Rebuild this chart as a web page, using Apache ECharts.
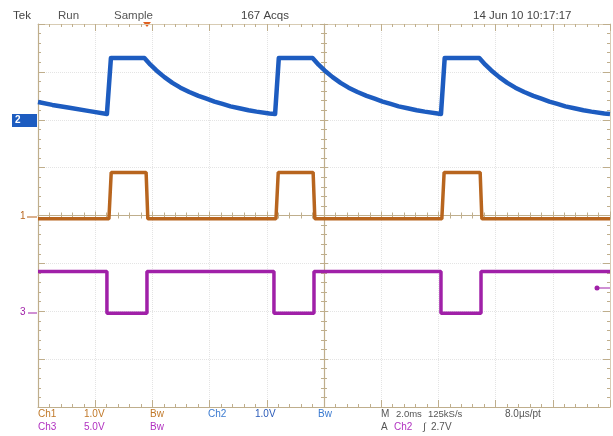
<!DOCTYPE html>
<html><head><meta charset="utf-8">
<script src="https://cdn.jsdelivr.net/npm/echarts@6/dist/echarts.min.js"></script>
<style>html,body{margin:0;padding:0;background:#fff}#c{width:613px;height:436px}</style>
</head><body><div id="c"></div>
<script>
// time in ms (2.0 ms/div, 10 div), amplitude in screen divisions (8 div)
const blueT = [-10, -9.5, -8.9, -8.2, -7.59, -7.45,
  -6.28, -6.07, -5.86, -5.58, -5.30, -5.02, -4.71, -4.39, -4.11, -3.83, -3.55, -3.27, -2.96, -2.64, -2.36, -1.91, -1.71, -1.58,
  -0.40, -0.19, 0.02, 0.30, 0.58, 0.86, 1.17, 1.49, 1.77, 2.05, 2.33, 2.61, 2.92, 3.24, 3.52, 3.97, 4.09, 4.22,
  5.43, 5.64, 5.85, 6.13, 6.41, 6.69, 7.00, 7.32, 7.60, 7.88, 8.16, 8.44, 8.75, 9.07, 9.35, 9.80, 10];
const blueV = [2.37, 2.31, 2.25, 2.18, 2.12, 3.29,
  3.29, 3.15, 3.03, 2.89, 2.77, 2.67, 2.58, 2.50, 2.44, 2.38, 2.33, 2.28, 2.24, 2.20, 2.17, 2.13, 2.12, 3.29,
  3.29, 3.15, 3.03, 2.89, 2.77, 2.67, 2.58, 2.50, 2.44, 2.38, 2.33, 2.28, 2.24, 2.20, 2.17, 2.13, 2.12, 3.29,
  3.29, 3.15, 3.03, 2.89, 2.77, 2.67, 2.58, 2.50, 2.44, 2.38, 2.33, 2.28, 2.24, 2.20, 2.17, 2.13, 2.12];
const orangeT = [-10, -7.52, -7.44, -6.22, -6.16, -1.68, -1.60, -0.38, -0.32, 4.12, 4.20, 5.46, 5.52, 10];
const orangeV = [-0.07, -0.07, 0.90, 0.90, -0.07, -0.07, 0.90, 0.90, -0.07, -0.07, 0.90, 0.90, -0.07, -0.07];
const purpleT = [-10, -7.59, -7.59, -6.19, -6.19, -1.75, -1.75, -0.35, -0.35, 4.09, 4.09, 5.49, 5.49, 10];
const purpleV = [-1.17, -1.17, -2.04, -2.04, -1.17, -1.17, -2.04, -2.04, -1.17, -1.17, -2.04, -2.04, -1.17, -1.17];
const topLabels = ["Tek", "Run", "Sample", "167 Acqs", "14 Jun 10 10:17:17"];
const bottomRow1 = ["Ch1", "1.0V", "Bw", "Ch2", "1.0V", "Bw", "M", "2.0ms", "125kS/s", "8.0µs/pt"];
const bottomRow2 = ["Ch3", "5.0V", "Bw", "A", "Ch2", "∫", "2.7V"];

const zip = (a, b) => a.map((v, i) => [v, b[i]]);
const frame = '#bfae8c', grid = '#e4e4e4';
const F = 'Liberation Sans, Arial, sans-serif';

function xAx(extra) {
  return Object.assign({
    type: 'value', min: -10, max: 10, interval: 2, gridIndex: 0,
    axisLabel: { show: false },
    axisLine: { show: true, onZero: false, lineStyle: { color: frame, width: 1.2 } },
    axisTick: { show: true, inside: true, length: 7, lineStyle: { color: frame } },
    minorTick: { show: true, splitNumber: 5, length: 3, lineStyle: { color: frame } },
    splitLine: { show: false }
  }, extra);
}
function yAx(extra) {
  return Object.assign({
    type: 'value', min: -4, max: 4, interval: 1, gridIndex: 0,
    axisLabel: { show: false },
    axisLine: { show: true, onZero: false, lineStyle: { color: frame, width: 1.2 } },
    axisTick: { show: true, inside: true, length: 7, lineStyle: { color: frame } },
    minorTick: { show: true, splitNumber: 5, length: 3, lineStyle: { color: frame } },
    splitLine: { show: false }
  }, extra);
}

const chart = echarts.init(document.getElementById('c'), null, { renderer: 'canvas' });
const txt = (x, y, s, color, size) => ({
  type: 'text', left: x, top: y,
  style: { text: s, fill: color, font: (size || 10) + 'px ' + F }
});

chart.setOption({
  animation: false,
  backgroundColor: '#ffffff',
  grid: { left: 38, top: 24, width: 572, height: 383 },
  xAxis: [
    xAx({ position: 'bottom', splitLine: { show: true, lineStyle: { color: grid, type: 'dotted', width: 1 } } }),
    xAx({ position: 'top', axisLine: { show: true, onZero: false, lineStyle: { color: '#d8ccb4', width: 1 } } }),
    xAx({ position: 'bottom', offset: -191.5, axisTick: { show: true, inside: true, length: 4, lineStyle: { color: frame } } }),
    xAx({ position: 'bottom', offset: -191.5, axisLine: { show: false }, axisTick: { show: true, inside: false, length: 4, lineStyle: { color: frame } } })
  ],
  yAxis: [
    yAx({ position: 'left', splitLine: { show: true, lineStyle: { color: grid, type: 'dotted', width: 1 } } }),
    yAx({ position: 'right', axisLine: { show: true, onZero: false, lineStyle: { color: '#d8ccb4', width: 1 } } }),
    yAx({ position: 'left', offset: -286, axisTick: { show: true, inside: true, length: 4, lineStyle: { color: frame } } }),
    yAx({ position: 'left', offset: -286, axisLine: { show: false }, axisTick: { show: true, inside: false, length: 4, lineStyle: { color: frame } } })
  ],
  series: [
    { type: 'line', name: 'Ch2', data: zip(blueT, blueV), showSymbol: false, silent: true,
      lineStyle: { color: '#1d5cc0', width: 4.5, join: 'round' } },
    { type: 'line', name: 'Ch1', data: zip(orangeT, orangeV), showSymbol: false, silent: true,
      lineStyle: { color: '#b8651e', width: 3.5 } },
    { type: 'line', name: 'Ch3', data: zip(purpleT, purpleV), showSymbol: false, silent: true,
      lineStyle: { color: '#a020a8', width: 3.5 } }
  ],
  graphic: [
    txt(13, 10, topLabels[0], '#444', 11.5),
    txt(58, 10, topLabels[1], '#555', 11.5),
    txt(114, 10, topLabels[2], '#555', 11.5),
    txt(241, 10, topLabels[3], '#444', 11.5),
    txt(473, 10, topLabels[4], '#444', 11.5),
    { type: 'polygon', shape: { points: [[143, 22], [151, 22], [147, 27]] }, style: { fill: '#e06020' } },
    // channel ground markers
    { type: 'rect', shape: { x: 12, y: 114, width: 25, height: 13 }, style: { fill: '#1d5cc0' } },
    { type: 'text', left: 15, top: 115, style: { text: '2', fill: '#fff', font: 'bold 10px ' + F } },
    txt(20, 211, '1', '#b8651e'),
    { type: 'line', shape: { x1: 27, y1: 217, x2: 37, y2: 217 }, style: { stroke: '#b8651e', lineWidth: 1 } },
    txt(20, 307, '3', '#a020a8'),
    { type: 'line', shape: { x1: 28, y1: 313, x2: 37, y2: 313 }, style: { stroke: '#a020a8', lineWidth: 1 } },
    { type: 'circle', shape: { cx: 597, cy: 288, r: 2.5 }, style: { fill: '#a020a8' } },
    { type: 'line', shape: { x1: 597, y1: 288, x2: 610, y2: 288 }, style: { stroke: '#a020a8', lineWidth: 1 } },
    // bottom readouts
    txt(38, 409, bottomRow1[0], '#c07828'),
    txt(84, 409, bottomRow1[1], '#c07828'),
    txt(150, 409, bottomRow1[2], '#c07828'),
    txt(208, 409, bottomRow1[3], '#3a7ad0'),
    txt(255, 409, bottomRow1[4], '#2a5ab8'),
    txt(318, 409, bottomRow1[5], '#3a7ad0'),
    txt(381, 409, bottomRow1[6], '#555'),
    txt(396, 409, bottomRow1[7], '#555', 9.5),
    txt(428, 409, bottomRow1[8], '#555', 9.5),
    txt(505, 409, bottomRow1[9], '#555'),
    txt(38, 422, bottomRow2[0], '#b030c0'),
    txt(84, 422, bottomRow2[1], '#b030c0'),
    txt(150, 422, bottomRow2[2], '#b030c0'),
    txt(381, 422, bottomRow2[3], '#555'),
    txt(394, 422, bottomRow2[4], '#b030c0'),
    txt(423, 422, bottomRow2[5], '#555'),
    txt(431, 422, bottomRow2[6], '#555')
  ]
});
</script></body></html>
